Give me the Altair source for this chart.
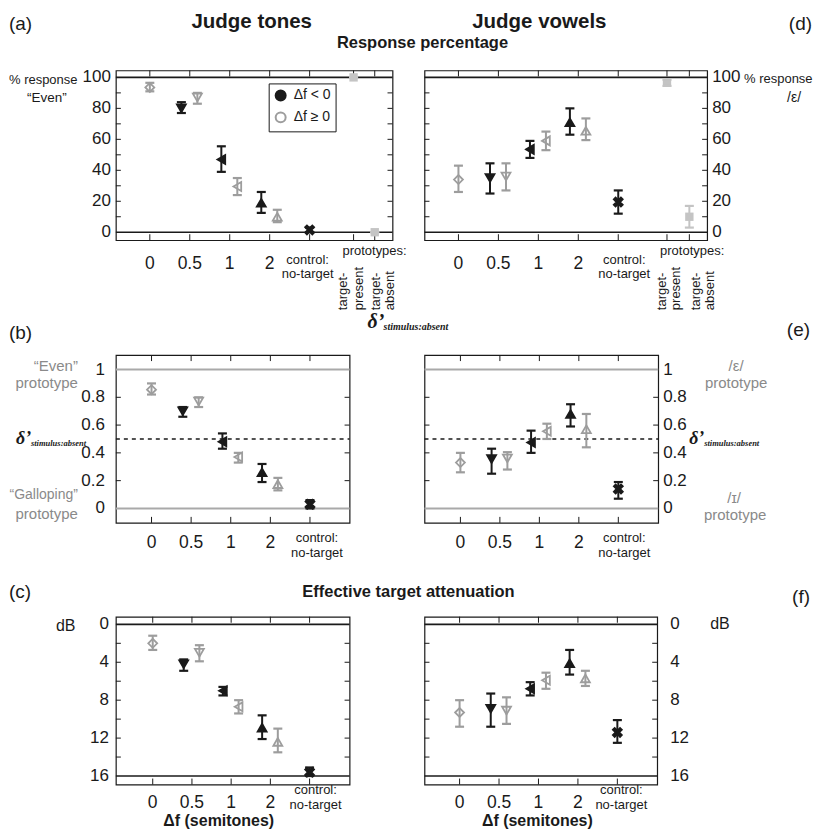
import altair as alt
import pandas as pd

SANS = "Liberation Sans"
SERIF = "Liberation Serif"
BLACK = "#1a1a1a"
GRAY = "#9d9d9d"
LGRAY = "#c4c4c4"
TGRAY = "#8a8a8a"
LINEGRAY = "#a9a9a9"

# ---------------- data ----------------
cats = ["0", "0.5", "1", "2", "control"]
control_label = ["control:", "no-target"]
point_cat = ["0", "0.5", "0.5", "1", "1", "2", "2", "control"]
point_series = ["Δf ≥ 0", "Δf < 0", "Δf ≥ 0", "Δf < 0", "Δf ≥ 0", "Δf < 0", "Δf ≥ 0", "control"]

tones_pct = [93.5, 80, 87, 47, 29.5, 19, 10, 1.5]
tones_pct_lo = [91, 77, 83, 39, 24, 12.5, 6.5, 0]
tones_pct_hi = [96.5, 84, 90, 55.5, 35, 26, 14.5, 3]
vowels_pct = [34, 35, 36, 53.5, 59, 71, 65.5, 19.5]
vowels_pct_lo = [26, 25, 27, 48, 53, 63, 59.5, 12]
vowels_pct_hi = [43, 44.5, 44.5, 59, 65, 80, 73.5, 27]

proto_names = ["target-present", "target-absent"]
tones_proto = [100, 0]
tones_proto_lo = [100, 0]
tones_proto_hi = [100, 0]
vowels_proto = [96.5, 10]
vowels_proto_lo = [94.5, 3]
vowels_proto_hi = [98.5, 17]

tones_d = [0.855, 0.70, 0.77, 0.48, 0.37, 0.26, 0.175, 0.03]
tones_d_lo = [0.82, 0.66, 0.73, 0.43, 0.33, 0.19, 0.13, 0.0]
tones_d_hi = [0.90, 0.73, 0.80, 0.54, 0.40, 0.32, 0.22, 0.06]
vowels_d = [0.33, 0.355, 0.36, 0.475, 0.555, 0.68, 0.57, 0.14]
vowels_d_lo = [0.26, 0.25, 0.28, 0.40, 0.50, 0.59, 0.44, 0.07]
vowels_d_hi = [0.40, 0.43, 0.405, 0.56, 0.61, 0.75, 0.68, 0.19]

tones_db = [2.0, 4.2, 3.0, 7.0, 8.7, 10.9, 12.4, 15.6]
tones_db_lo = [1.2, 3.7, 2.2, 6.6, 8.0, 9.6, 11.0, 15.1]
tones_db_hi = [2.7, 4.9, 3.9, 7.5, 9.4, 12.1, 13.5, 16.0]
vowels_db = [9.3, 8.9, 9.1, 6.8, 5.9, 4.1, 5.7, 11.4]
vowels_db_lo = [8.0, 7.3, 7.7, 6.1, 5.1, 2.7, 4.9, 10.1]
vowels_db_hi = [10.8, 10.8, 10.5, 7.5, 6.8, 5.3, 6.5, 12.5]

pct_ticks = [0, 20, 40, 60, 80, 100]
d_ticks = [0, 0.2, 0.4, 0.6, 0.8, 1]
db_ticks = [0, 4, 8, 12, 16]

# ---------------- styling / layout constants ----------------
DODGE = {"Δf < 0": -0.21, "Δf ≥ 0": 0.19}
XPATH = "M-1,-0.6L-0.6,-1L0,-0.4L0.6,-1L1,-0.6L0.4,0L1,0.6L0.6,1L0,0.4L-0.6,1L-1,0.6L-0.4,0Z"
series_domain = ["Δf < 0", "Δf ≥ 0", "control"]
fill_scale = alt.Scale(domain=series_domain, range=[BLACK, "transparent", BLACK])
stroke_scale = alt.Scale(domain=series_domain, range=[BLACK, GRAY, BLACK])
shape_scale = alt.Scale(domain=cats, range=["diamond", "triangle-down", "triangle-left", "triangle-up", XPATH])


def make_df(v, lo, hi):
    rows = []
    for c, s, vv, l, h in zip(point_cat, point_series, v, lo, hi):
        slot = cats.index(c)
        off = 0.0 if c in ("0", "control") else DODGE[s]
        rows.append(dict(cat=c, series=s, x=slot + off, v=vv, lo=l, hi=h))
    return pd.DataFrame(rows)


def make_proto(slots, v, lo, hi):
    return pd.DataFrame(dict(name=proto_names, x=slots, v=v, lo=lo, hi=hi))


def txt(s, x, y, size=14, color=BLACK, align="left", baseline="middle", font=SANS,
        weight="normal", style="normal", angle=0):
    return alt.Chart(alt.Data(values=[{"t": s}])).mark_text(
        x=x, y=y, fontSize=size, color=color, align=align, baseline=baseline,
        font=font, fontWeight=weight, fontStyle=style, angle=angle
    ).encode(text="t:N")


def delta(x, y, big, small, xs_off):
    return [
        txt("δ’", x, y, big, font=SERIF, weight="bold", style="italic", baseline="alphabetic"),
        txt("stimulus:absent", x + xs_off, y + 2, small, font=SERIF, weight="bold",
            style="italic", baseline="alphabetic"),
    ]


def panel(df, w, h, xdom, ydom, yvals, yside, ypad, xlab_dy, ctrl_dy, ctrl_dx, minor, hlines,
          tick_slots, yrev=False, legend=None, proto=None, texts=()):
    xs = alt.Scale(domain=xdom, nice=False, zero=False)
    ys = alt.Scale(domain=ydom, nice=False, zero=False, reverse=yrev)

    def X(f):
        return alt.X(f, type="quantitative", scale=xs, axis=None)

    def Y(f):
        return alt.Y(f, type="quantitative", scale=ys, axis=None)

    layers = []
    for val, col, dash, sw in hlines:
        mk = dict(color=col, strokeWidth=sw)
        if dash:
            mk["strokeDash"] = dash
        layers.append(
            alt.Chart(pd.DataFrame({"v": [val]})).mark_rule(**mk).encode(
                y=Y("v"), x=alt.value(0), x2=alt.value(w))
        )
    # inward ticks (frame)
    tdf = pd.DataFrame({"s": tick_slots})
    layers.append(alt.Chart(tdf).mark_rule(color=BLACK, strokeWidth=1).encode(
        x=X("s"), y=alt.value(0), y2=alt.value(6)))
    layers.append(alt.Chart(tdf).mark_rule(color=BLACK, strokeWidth=1).encode(
        x=X("s"), y=alt.value(h - 6), y2=alt.value(h)))
    mdf = pd.DataFrame({"v": minor})
    layers.append(alt.Chart(mdf).mark_rule(color=BLACK, strokeWidth=1).encode(
        y=Y("v"), x=alt.value(0), x2=alt.value(5)))
    layers.append(alt.Chart(mdf).mark_rule(color=BLACK, strokeWidth=1).encode(
        y=Y("v"), x=alt.value(w - 5), x2=alt.value(w)))

    # y tick labels, placed by the y scale
    ydf = pd.DataFrame({"v": yvals, "lab": [f"{v:g}" for v in yvals]})
    layers.append(alt.Chart(ydf).mark_text(
        fontSize=17, font=SANS, color=BLACK, baseline="middle",
        align="right" if yside == "left" else "left").encode(
        y=Y("v"), x=alt.value(-ypad if yside == "left" else w + ypad), text="lab:N"))
    # x tick labels, placed by the x scale
    xdf = pd.DataFrame({"s": list(range(4)), "lab": cats[:4]})
    layers.append(alt.Chart(xdf).mark_text(
        fontSize=17.5, font=SANS, color=BLACK, baseline="middle", align="center").encode(
        x=X("s"), y=alt.value(h + xlab_dy), text="lab:N"))
    for line, dy in zip(control_label, ctrl_dy):
        cdf = pd.DataFrame({"s": [cats.index("control")], "lab": [line]})
        layers.append(alt.Chart(cdf).mark_text(
            fontSize=13, font=SANS, color=BLACK, baseline="middle", align="center", dx=ctrl_dx).encode(
            x=X("s"), y=alt.value(h + dy), text="lab:N"))

    fill_enc = alt.Fill("series:N", scale=fill_scale, legend=legend)
    stroke_enc = alt.Stroke("series:N", scale=stroke_scale, legend=legend)
    layers.append(
        alt.Chart(df).mark_point(filled=True, size=80, strokeWidth=1.8, opacity=1).encode(
            x=X("x"), y=Y("v"), fill=fill_enc, stroke=stroke_enc,
            shape=alt.Shape("cat:N", scale=shape_scale, legend=None))
    )
    col_enc = alt.Color("series:N", scale=stroke_scale, legend=None)
    layers.append(alt.Chart(df).mark_rule(strokeWidth=2).encode(
        x=X("x"), y=Y("lo"), y2=alt.Y2("hi"), color=col_enc))
    for f in ("lo", "hi"):
        layers.append(alt.Chart(df).mark_rule(strokeWidth=2.2, xOffset=-4.5, x2Offset=4.5).encode(
            x=X("x"), x2=alt.X2("x"), y=Y(f), color=col_enc))

    if proto is not None:
        layers.append(alt.Chart(proto).mark_square(size=70, color=LGRAY, opacity=1).encode(
            x=X("x"), y=Y("v")))
        layers.append(alt.Chart(proto).mark_rule(strokeWidth=2, color=LGRAY).encode(
            x=X("x"), y=Y("lo"), y2=alt.Y2("hi")))
        for f in ("lo", "hi"):
            layers.append(alt.Chart(proto).mark_rule(strokeWidth=2.2, xOffset=-4.5, x2Offset=4.5,
                                                     color=LGRAY).encode(
                x=X("x"), x2=alt.X2("x"), y=Y(f)))
    layers.extend(texts)
    return alt.layer(*layers).properties(width=w, height=h)


def spacer(h):
    return alt.Chart(alt.Data(values=[{"t": ""}])).mark_text(opacity=0).encode(
        text="t:N").properties(width=10, height=h,
                               view=alt.ViewBackground(strokeOpacity=0, stroke="transparent"))


legendA = alt.Legend(
    orient="none", legendX=153, legendY=13, title=None, values=["Δf < 0", "Δf ≥ 0"],
    strokeColor=BLACK, fillColor="white", padding=5, rowPadding=4, labelFontSize=14,
    labelFont=SANS, labelColor=BLACK, symbolSize=100, symbolStrokeWidth=2, labelOffset=6,
    symbolType="circle", cornerRadius=0,
)

black_lines_pct = [(100, BLACK, None, 1.6), (0, BLACK, None, 1.6)]
d_lines = [(1, LINEGRAY, None, 2), (0, LINEGRAY, None, 2), (0.5, BLACK, [4, 4], 1.6)]
db_lines = [(0, BLACK, None, 1.6), (16, BLACK, None, 1.6)]

tones_proto_slots = [5.1, 5.63]
vowels_proto_slots = [5.22, 5.78]


def rot_labels(xs_px, y):
    words = ["target-", "present", "target-", "absent"]
    return [txt(wd, xp, y, 13, align="left", angle=270) for wd, xp in zip(words, xs_px)]


A = panel(
    make_df(tones_pct, tones_pct_lo, tones_pct_hi), 277, 170, [-0.85, 6.075], [-5.16, 104.5],
    pct_ticks, "left", 5, 24.3, (19.5, 34), -2, list(range(10, 100, 10)), black_lines_pct,
    [0, 1, 2, 3, 4] + tones_proto_slots, legend=legendA,
    proto=make_proto(tones_proto_slots, tones_proto, tones_proto_lo, tones_proto_hi),
    texts=[
        txt("(a)", -107, -46, 19),
        txt("Judge tones", 136, -42, 20.5, weight="bold", align="center", baseline="alphabetic"),
        txt("Response percentage", 307, -22, 16.5, weight="bold", align="center", baseline="alphabetic"),
        txt("% response", -107, 10, 13),
        txt("“Even”", -69, 28, 13.5, align="center"),
        txt("prototypes:", 259, 181, 13, align="center"),
    ] + rot_labels([227, 243, 260, 274], 240),
)

D = panel(
    make_df(vowels_pct, vowels_pct_lo, vowels_pct_hi), 283, 170, [-0.85, 6.225], [-5.16, 104.5],
    pct_ticks, "right", 5, 24.3, (19.5, 34), 6, list(range(10, 100, 10)), black_lines_pct,
    [0, 1, 2, 3, 4] + vowels_proto_slots,
    proto=make_proto(vowels_proto_slots, vowels_proto, vowels_proto_lo, vowels_proto_hi),
    texts=[
        txt("Judge vowels", 115, -42, 20.5, weight="bold", align="center", baseline="alphabetic"),
        txt("(d)", 388, -46, 19, align="right"),
        txt("% response", 320, 9, 13),
        txt("/ε/", 370, 28, 14, align="center"),
        txt("prototypes:", 268, 181, 13, align="center"),
    ] + rot_labels([238, 252, 272, 286], 240),
)

B = panel(
    make_df(tones_d, tones_d_lo, tones_d_hi), 234, 168, [-0.9, 5.0], [-0.104, 1.104],
    d_ticks, "left", 11, 20.6, (15.3, 30), 7, [0.2, 0.4, 0.6, 0.8], d_lines, [0, 1, 2, 3, 4],
    texts=[
        txt("(b)", -107, -22, 19),
        txt("“Even”", -38, 11, 15, color=TGRAY, align="right"),
        txt("prototype", -38, 28, 15, color=TGRAY, align="right"),
        txt("“Galloping”", -38, 140, 14, color=TGRAY, align="right"),
        txt("prototype", -38, 159, 15, color=TGRAY, align="right"),
    ] + delta(252, -27, 20, 10, 16) + delta(-100, 89, 18, 8.5, 15),
)

E = panel(
    make_df(vowels_d, vowels_d_lo, vowels_d_hi), 234, 168, [-0.91, 5.01], [-0.104, 1.104],
    d_ticks, "right", 5, 20.6, (15, 29.7), 6, [0.2, 0.4, 0.6, 0.8], d_lines, [0, 1, 2, 3, 4],
    texts=[
        txt("(e)", 386, -25, 19, align="right"),
        txt("/ε/", 312, 11, 15, color=TGRAY, align="center"),
        txt("prototype", 312, 28, 15, color=TGRAY, align="center"),
        txt("/ɪ/", 310, 143, 15, color=TGRAY, align="center"),
        txt("prototype", 311, 160, 15, color=TGRAY, align="center"),
    ] + delta(265, 89, 18, 8.5, 15),
)

C = panel(
    make_df(tones_db, tones_db_lo, tones_db_hi), 234, 168, [-0.94, 5.02], [-0.8, 16.9],
    db_ticks, "left", 7, 18.5, (5.5, 20), 6, [2, 4, 6, 8, 10, 12, 14], db_lines, [0, 1, 2, 3, 4],
    yrev=True,
    texts=[
        txt("(c)", -107, -25, 19),
        txt("Effective target attenuation", 293, -25, 16.5, weight="bold", align="center"),
        txt("dB", -60, 9, 16),
        txt("Δf (semitones)", 103, 205, 16, weight="bold", align="center"),
    ],
)

F = panel(
    make_df(vowels_db, vowels_db_lo, vowels_db_hi), 233, 168, [-0.89, 5.01], [-0.8, 16.9],
    db_ticks, "right", 13, 18.5, (5.5, 20), 4, [2, 4, 6, 8, 10, 12, 14], db_lines, [0, 1, 2, 3, 4],
    yrev=True,
    texts=[
        txt("(f)", 386, -20, 19, align="right"),
        txt("dB", 286, 7, 16),
        txt("Δf (semitones)", 113, 205, 16, weight="bold", align="center"),
    ],
)

IND = dict(fill="independent", stroke="independent", shape="independent", color="independent")

chart = (
    alt.concat(
        A, D, spacer(115), spacer(115), B, E, spacer(94), spacer(94), C, F,
        columns=2, spacing={"row": 0, "column": 32}, bounds="flush",
    )
    .resolve_scale(**IND)
    .properties(padding={"top": 3, "left": 0, "right": 0, "bottom": 0}, background="white")
    .configure_view(stroke=BLACK, strokeWidth=1.2)
)

chart.save("out.html", embed_options={"renderer": "svg", "actions": False})
